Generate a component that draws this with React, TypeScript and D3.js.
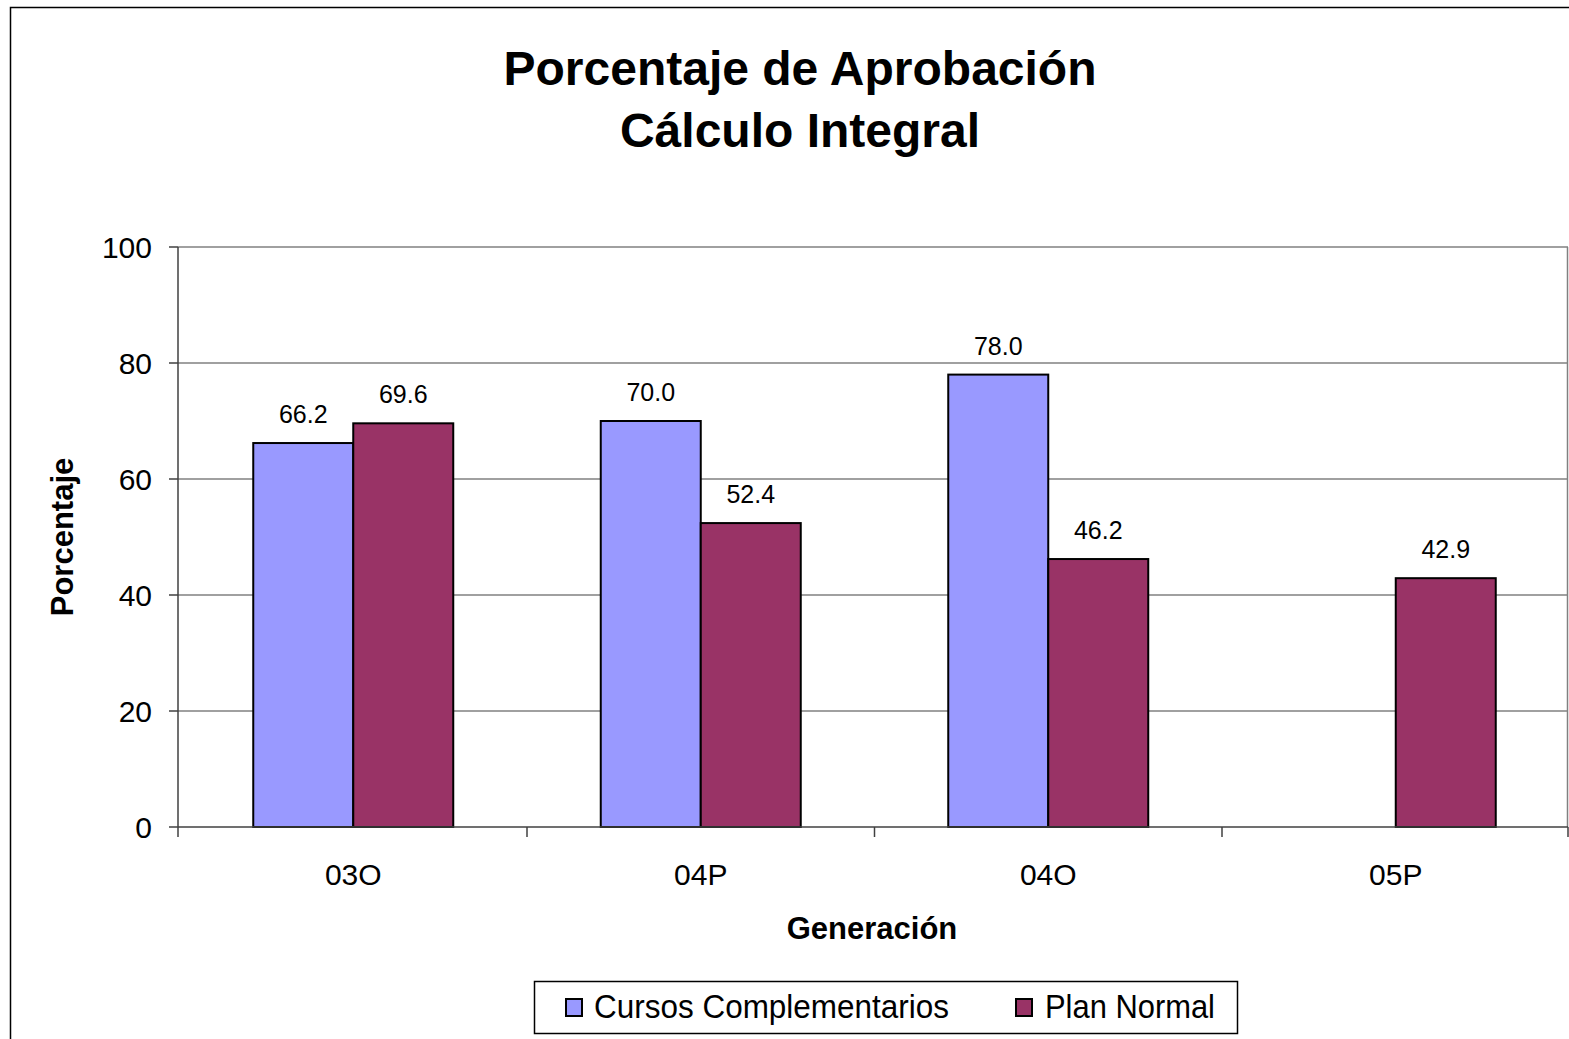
import React from 'react';
import * as d3 from 'd3';

const categories = ['03O', '04P', '04O', '05P'];
const cursosComplementarios: (number | null)[] = [66.2, 70.0, 78.0, null];
const planNormal: (number | null)[] = [69.6, 52.4, 46.2, 42.9];
const yTicks = [0, 20, 40, 60, 80, 100];

const series = [
  { name: 'Cursos Complementarios', values: cursosComplementarios, color: '#9999FF' },
  { name: 'Plan Normal', values: planNormal, color: '#993366' },
];

const W = 1569;
const H = 1039;
const font = '"Liberation Sans", Arial, sans-serif';

const App = () => {
  const margin = { top: 247, right: 1, bottom: 212, left: 178 };
  const innerWidth = W - margin.left - margin.right;
  const innerHeight = H - margin.top - margin.bottom;

  const xScale = d3.scaleBand().domain(categories).range([1.5, innerWidth + 1.5]).paddingInner(0).paddingOuter(0);
  const groupWidth = 200;
  const xSub = d3
    .scaleBand()
    .domain(series.map(s => s.name))
    .range([(xScale.bandwidth() - groupWidth) / 2, (xScale.bandwidth() + groupWidth) / 2]);
  const yScale = d3.scaleLinear().domain([0, 100]).range([innerHeight, 0]);

  return (
    <svg width={W} height={H} style={{ position: 'absolute', left: 0, top: 0, display: 'block' }}>
      <rect x={0} y={0} width={W} height={H} fill="#fff" />
      <rect x={10.5} y={7.5} width={W + 20} height={H + 20} fill="none" stroke="#000" strokeWidth={1.5} />

      <text x={800} y={85} textAnchor="middle" fontFamily={font} fontWeight="bold" fontSize={48}>
        Porcentaje de Aprobación
      </text>
      <text x={800} y={147} textAnchor="middle" fontFamily={font} fontWeight="bold" fontSize={48}>
        Cálculo Integral
      </text>

      <g transform={`translate(${margin.left},${margin.top})`}>
        {/* gridlines */}
        {yTicks.filter(t => t > 0).map(t => (
          <line key={t} x1={0} x2={innerWidth} y1={yScale(t)} y2={yScale(t)} stroke="#808080" strokeWidth={1.5} />
        ))}
        <line x1={innerWidth - 0.5} x2={innerWidth - 0.5} y1={0} y2={innerHeight} stroke="#808080" strokeWidth={1.5} />

        {/* bars */}
        {categories.map((c, i) => (
          <g key={c} transform={`translate(${xScale(c)},0)`}>
            {series.map(s => {
              const v = s.values[i];
              if (v == null) return null;
              const x = xSub(s.name)!;
              return (
                <g key={s.name}>
                  <rect
                    x={x}
                    y={yScale(v)}
                    width={xSub.bandwidth()}
                    height={innerHeight - yScale(v)}
                    fill={s.color}
                    stroke="#000"
                    strokeWidth={2}
                  />
                  <text
                    x={x + xSub.bandwidth() / 2}
                    y={yScale(v) - 20}
                    textAnchor="middle"
                    fontFamily={font}
                    fontSize={25}
                  >
                    {v.toFixed(1)}
                  </text>
                </g>
              );
            })}
          </g>
        ))}

        {/* y axis */}
        <line x1={0} x2={0} y1={0} y2={innerHeight} stroke="#404040" strokeWidth={1.5} />
        {yTicks.map(t => (
          <g key={t} transform={`translate(0,${yScale(t)})`}>
            <line x1={-9} x2={0} stroke="#404040" strokeWidth={1.5} />
            <text x={-26} y={11} textAnchor="end" fontFamily={font} fontSize={30}>
              {t}
            </text>
          </g>
        ))}

        {/* x axis */}
        <line x1={0} x2={innerWidth} y1={innerHeight} y2={innerHeight} stroke="#404040" strokeWidth={1.5} />
        {categories.slice(1).map(c => (
          <line
            key={c + 't'}
            x1={xScale(c)!}
            x2={xScale(c)!}
            y1={innerHeight}
            y2={innerHeight + 10}
            stroke="#404040"
            strokeWidth={1.5}
          />
        ))}
        <line x1={0} x2={0} y1={innerHeight} y2={innerHeight + 10} stroke="#404040" strokeWidth={1.5} />
        <line x1={innerWidth} x2={innerWidth} y1={innerHeight} y2={innerHeight + 10} stroke="#404040" strokeWidth={1.5} />
        {categories.map(c => (
          <text
            key={c + 'l'}
            x={xScale(c)! + xScale.bandwidth() / 2}
            y={innerHeight + 58}
            textAnchor="middle"
            fontFamily={font}
            fontSize={30}
          >
            {c}
          </text>
        ))}
      </g>

      <text x={872} y={939} textAnchor="middle" fontFamily={font} fontWeight="bold" fontSize={31}>
        Generación
      </text>
      <text
        transform={`translate(73,537) rotate(-90)`}
        textAnchor="middle"
        fontFamily={font}
        fontWeight="bold"
        fontSize={31}
      >
        Porcentaje
      </text>

      {/* legend */}
      <rect x={534.5} y={981.5} width={703} height={52} fill="#fff" stroke="#000" strokeWidth={1.5} />
      <rect x={566} y={999} width={16} height={17} fill={series[0].color} stroke="#000" strokeWidth={2} />
      <text x={594} y={1018} fontFamily={font} fontSize={33} textLength={355} lengthAdjust="spacingAndGlyphs">
        {series[0].name}
      </text>
      <rect x={1016} y={999} width={16} height={17} fill={series[1].color} stroke="#000" strokeWidth={2} />
      <text x={1045} y={1018} fontFamily={font} fontSize={33} textLength={170} lengthAdjust="spacingAndGlyphs">
        {series[1].name}
      </text>
    </svg>
  );
};

export default App;
